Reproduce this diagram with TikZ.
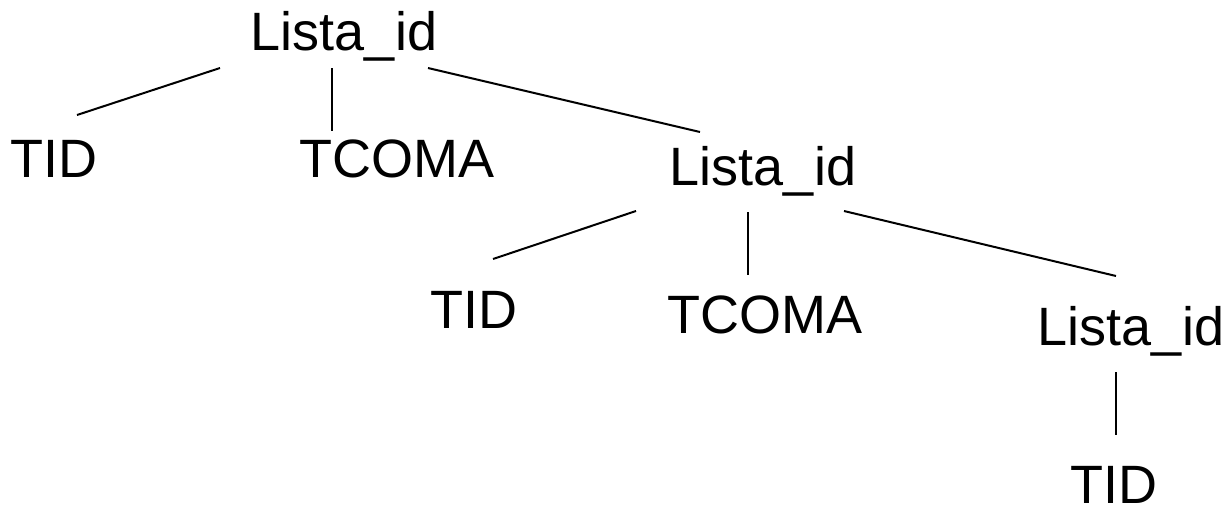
\documentclass[tikz,border=0pt]{standalone}
\usepackage{fontspec}
\setmainfont{Liberation Sans}
\begin{document}
\begin{tikzpicture}[x=1pt,y=1pt,
  sym/.style={anchor=base,inner sep=0pt,font=\fontsize{54}{60}\selectfont},
  edge/.style={line width=2pt}]
\useasboundingbox (0,0) rectangle (1226,-507);
% symbols of the parse tree
\node[sym] (l1) at (344,-50)  {Lista\_id};
\node[sym] (t1) at (54,-177)  {TID};
\node[sym] (c1) at (397,-177) {TCOMA};
\node[sym] (l2) at (763,-185) {Lista\_id};
\node[sym] (t2) at (474,-328) {TID};
\node[sym] (c2) at (765,-333) {TCOMA};
\node[sym] (l3) at (1131,-345) {Lista\_id};
\node[sym] (t3) at (1114,-503) {TID};
% branches
\draw[edge] ([shift={(-124,-18)}]l1.base) -- ([shift={(23,62)}]t1.base);
\draw[edge] ([shift={(-12,-18)}]l1.base) -- ([shift={(-65,46)}]c1.base);
\draw[edge] ([shift={(84,-18)}]l1.base) -- ([shift={(-63,53)}]l2.base);
\draw[edge] ([shift={(-127,-26)}]l2.base) -- ([shift={(19,69)}]t2.base);
\draw[edge] ([shift={(-15,-27)}]l2.base) -- ([shift={(-17,58)}]c2.base);
\draw[edge] ([shift={(81,-26)}]l2.base) -- ([shift={(-15,69)}]l3.base);
\draw[edge] ([shift={(-15,-27)}]l3.base) -- ([shift={(2,68)}]t3.base);
\end{tikzpicture}
\end{document}
